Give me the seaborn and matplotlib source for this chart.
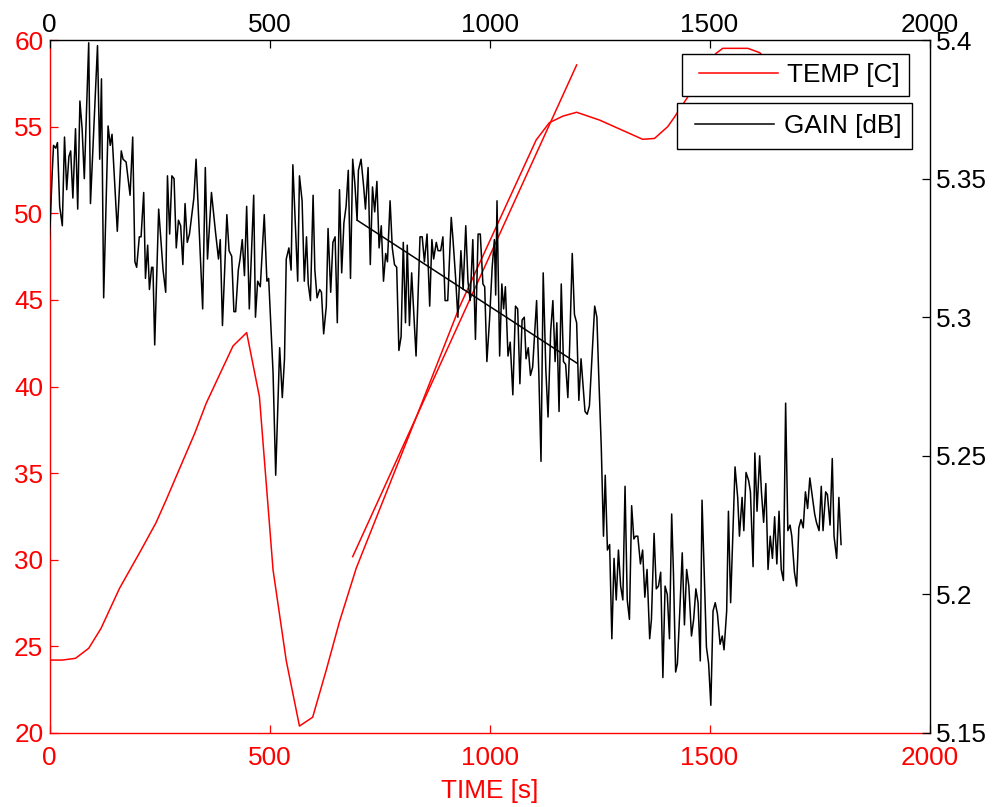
import matplotlib
matplotlib.use("Agg")
import matplotlib.pyplot as plt
import seaborn as sns
from matplotlib.ticker import FuncFormatter
from matplotlib.legend_handler import HandlerLine2D
from matplotlib.lines import Line2D

plt.rcParams['font.family'] = ['Liberation Sans', 'DejaVu Sans']

# ---------------- data ----------------
temp_t = [0, 29, 59, 89, 117, 159, 208, 242, 265, 299, 330, 356, 386, 417, 448,
          477, 508, 538, 568, 598, 629, 659, 697, 837, 932, 1045, 1106, 1136,
          1167, 1198, 1250, 1348, 1375, 1405, 1420, 1451, 1515, 1530, 1587, 1614, 1640]
temp_c = [24.21, 24.21, 24.31, 24.89, 26.04, 28.35, 30.56, 32.14, 33.45, 35.47,
          37.30, 39.03, 40.66, 42.34, 43.11, 39.41, 29.41, 24.17, 20.40, 20.91,
          23.64, 26.43, 29.51, 38.45, 44.61, 50.86, 54.23, 55.23, 55.61, 55.83,
          55.38, 54.27, 54.32, 55.00, 55.54, 56.73, 59.23, 59.52, 59.52, 59.27, 58.6]

temp_fit_t = [689, 1198]
temp_fit_c = [30.18, 58.56]

gain_t = [0, 6, 9, 14, 18, 23, 29, 34, 39, 44, 48, 53, 59, 64, 69, 74, 79, 89, 93, 109,
          114, 118, 123, 133, 138, 142, 154, 163, 167, 174, 183, 189, 194, 198, 204, 208,
          214, 218, 223, 227, 232, 235, 239, 248, 258, 264, 268, 273, 278, 283, 288, 293,
          298, 303, 308, 313, 318, 328, 333, 348, 354, 359, 368, 377, 384, 388, 393, 403,
          408, 414, 419, 423, 429, 433, 438, 443, 448, 454, 464, 468, 473, 479, 488, 494,
          498,
          508, 514, 523, 529, 534, 538, 544, 549, 553, 564, 568, 574, 579, 584, 588, 593,
          599, 603, 608, 614, 618, 623, 629, 633, 639, 644, 649, 654, 659, 664, 669, 674,
          679, 684, 689, 694, 699, 702, 708, 714, 718, 724, 729, 734, 739, 744, 749, 754,
          759, 764, 768, 774, 779, 784, 789, 794, 799, 804, 809, 813, 818, 823, 833, 842,
          847, 852, 858, 864, 869, 873, 879, 883, 889, 894, 899, 905, 913, 917, 923, 928,
          935, 940, 946, 951, 956, 962, 968, 974, 979, 985, 989, 994, 1000,
          1006, 1011, 1014, 1017, 1023, 1028, 1032, 1036, 1042, 1047, 1053, 1059, 1064,
          1069, 1074, 1079, 1083, 1088, 1093, 1098, 1107, 1112, 1117, 1122, 1128, 1133,
          1139, 1144, 1149, 1153, 1158, 1163, 1168, 1173, 1178, 1182, 1188, 1193, 1198,
          1203, 1208, 1217, 1222, 1227, 1239, 1244,
          1248, 1254, 1259, 1263, 1268, 1273, 1278, 1283, 1288, 1293, 1298, 1303, 1308,
          1313, 1318, 1323, 1328, 1332, 1337, 1343, 1348, 1353, 1358, 1364, 1368, 1374,
          1379, 1384, 1389, 1394, 1399, 1404, 1409, 1414, 1418, 1423, 1427, 1433, 1438,
          1443, 1448, 1453, 1459, 1464, 1469, 1474, 1479, 1483, 1493, 1498, 1503, 1508,
          1513, 1518, 1524, 1529, 1533, 1539, 1543, 1548, 1553, 1558, 1564, 1568, 1574,
          1578, 1583, 1589, 1593, 1599, 1603, 1608, 1614, 1618, 1623, 1628, 1633, 1638,
          1643, 1648, 1653, 1658, 1663, 1668, 1673, 1678, 1683, 1687, 1693, 1698, 1703,
          1708, 1713, 1718, 1723, 1728, 1733, 1739, 1743, 1749, 1754, 1758, 1764, 1768,
          1774, 1779, 1783, 1789, 1794, 1799]
gain_db = [5.328, 5.352, 5.362, 5.361, 5.363, 5.340, 5.333, 5.365, 5.346, 5.358, 5.360,
           5.343, 5.368, 5.339, 5.378, 5.368, 5.350, 5.399, 5.341, 5.398, 5.357, 5.386,
           5.307, 5.369, 5.362, 5.366, 5.331, 5.360, 5.357, 5.356, 5.344, 5.365, 5.320,
           5.318, 5.329, 5.329, 5.345, 5.314, 5.326, 5.310, 5.318, 5.318, 5.290, 5.339,
           5.317, 5.309, 5.351, 5.330, 5.351, 5.350, 5.325, 5.335, 5.333, 5.319, 5.341,
           5.327, 5.330, 5.343, 5.357, 5.303, 5.354, 5.321, 5.345, 5.331, 5.321, 5.328,
           5.297, 5.337, 5.324, 5.322, 5.302, 5.302, 5.317, 5.321, 5.328, 5.315, 5.340,
           5.303, 5.344, 5.300, 5.313, 5.311, 5.337, 5.313, 5.314,
           5.280, 5.243, 5.289, 5.271, 5.285, 5.321, 5.325, 5.317, 5.355, 5.313, 5.351,
           5.342, 5.313, 5.329, 5.312, 5.306, 5.344, 5.317, 5.307, 5.310, 5.309, 5.294,
           5.304, 5.332, 5.309, 5.327, 5.329, 5.298, 5.346, 5.316, 5.334, 5.340, 5.353,
           5.314, 5.357, 5.348, 5.335, 5.353, 5.357, 5.347, 5.339, 5.354, 5.319, 5.347,
           5.338, 5.349, 5.325, 5.333, 5.313, 5.323, 5.320, 5.342, 5.325, 5.319, 5.318,
           5.288, 5.293, 5.327, 5.298, 5.326, 5.297, 5.316, 5.286, 5.329, 5.329, 5.320,
           5.330, 5.304, 5.328, 5.321, 5.327, 5.324, 5.324, 5.329, 5.306, 5.306, 5.336,
           5.328, 5.314, 5.300, 5.324, 5.310, 5.333, 5.313, 5.306, 5.328, 5.292, 5.330,
           5.330, 5.312, 5.311, 5.284, 5.299,
           5.318, 5.328, 5.308, 5.342, 5.286, 5.312, 5.303, 5.311, 5.286, 5.291, 5.272,
           5.304, 5.303, 5.276, 5.299, 5.300, 5.285, 5.289, 5.279, 5.282, 5.306, 5.280,
           5.248, 5.316, 5.281, 5.264, 5.295, 5.306, 5.284, 5.298, 5.266, 5.312, 5.284,
           5.283, 5.271, 5.289, 5.323, 5.301, 5.298, 5.270, 5.285, 5.266, 5.265, 5.268,
           5.304, 5.300,
           5.280, 5.253, 5.221, 5.243, 5.216, 5.218, 5.184, 5.213, 5.198, 5.216, 5.203,
           5.198, 5.239, 5.198, 5.191, 5.232, 5.220, 5.221, 5.221, 5.211, 5.216, 5.199,
           5.209, 5.184, 5.191, 5.222, 5.202, 5.203, 5.208, 5.170, 5.203, 5.200, 5.184,
           5.229, 5.208, 5.172, 5.175, 5.196, 5.215, 5.189, 5.209, 5.203, 5.185, 5.191,
           5.202, 5.197, 5.176, 5.234, 5.181, 5.175, 5.160, 5.194, 5.197, 5.193, 5.182,
           5.185, 5.180, 5.194, 5.230, 5.197, 5.222, 5.246, 5.235, 5.221, 5.235, 5.223,
           5.244, 5.241, 5.237, 5.210, 5.251, 5.230, 5.250, 5.237, 5.226, 5.240, 5.209,
           5.221, 5.213, 5.228, 5.211, 5.230, 5.209, 5.205, 5.269, 5.223, 5.225, 5.221,
           5.208, 5.203, 5.224, 5.227, 5.224, 5.237, 5.231, 5.242, 5.236, 5.229, 5.226,
           5.223, 5.239, 5.223, 5.237, 5.236, 5.225, 5.249, 5.221, 5.213, 5.235, 5.218]

gain_fit_t = [699, 1199]
gain_fit_db = [5.335, 5.2834]

x_ticks = [0, 500, 1000, 1500, 2000]
temp_ticks = [20, 25, 30, 35, 40, 45, 50, 55, 60]
gain_ticks = [5.15, 5.2, 5.25, 5.3, 5.35, 5.4]

FS = 18.8

# ---------------- figure ----------------
fig = plt.figure(figsize=(9.97, 8.07), dpi=100)
fig.patch.set_facecolor('white')
ax1 = fig.add_axes([0.0497, 0.0917, 0.8826, 0.8587])
ax2 = ax1.twinx()

sns.lineplot(x=temp_t, y=temp_c, ax=ax1, color='red', lw=1.1,
             estimator=None, sort=False, label='TEMP [C]')
sns.lineplot(x=temp_fit_t, y=temp_fit_c, ax=ax1, color='red', lw=1.1,
             estimator=None, sort=False)
sns.lineplot(x=gain_t, y=gain_db, ax=ax2, color='black', lw=1.1,
             estimator=None, sort=False, label='GAIN [dB]')
sns.lineplot(x=gain_fit_t, y=gain_fit_db, ax=ax2, color='black', lw=1.1,
             estimator=None, sort=False)

ax1.set_xlim(0, 2000)
ax1.set_ylim(20, 60)
ax2.set_ylim(5.15, 5.4)
ax1.set_xticks(x_ticks)
ax1.set_yticks(temp_ticks)
ax2.set_yticks(gain_ticks)
ax2.yaxis.set_major_formatter(FuncFormatter(lambda v, p: f"{v:g}"))

ax1.set_facecolor('white')
ax2.patch.set_visible(False)

for s in ['top', 'right']:
    ax1.spines[s].set_visible(False)
for s in ['left', 'bottom']:
    ax1.spines[s].set_color('red')
    ax1.spines[s].set_linewidth(1.0)
for s in ['left', 'bottom']:
    ax2.spines[s].set_visible(False)
for s in ['top', 'right']:
    ax2.spines[s].set_visible(True)
    ax2.spines[s].set_color('black')
    ax2.spines[s].set_linewidth(1.0)

ax1.tick_params(axis='both', which='major', direction='in', length=6, width=0.9,
                colors='red', labelsize=FS, bottom=True, left=True, top=False, right=False)
ax1.tick_params(axis='x', pad=9.5)
ax1.tick_params(axis='y', pad=4.5)

ax2.xaxis.set_visible(True)
ax2.xaxis.tick_top()
ax2.tick_params(axis='both', which='major', direction='in', length=6, width=0.9,
                colors='black', labelsize=FS)
ax2.tick_params(axis='x', pad=2, top=True, bottom=False, labeltop=True, labelbottom=False)
ax2.tick_params(axis='y', pad=4.5, right=True, left=False)

ax1.set_xlabel('TIME [s]', color='red', fontsize=FS, labelpad=6)
ax1.set_ylabel('')
ax2.set_ylabel('')
ax2.set_xlabel('')

hmap = {Line2D: HandlerLine2D(xpad=0.3)}
leg_kw = dict(fontsize=FS, frameon=True, fancybox=False, framealpha=1,
              edgecolor='black', facecolor='white', handlelength=3.33,
              handletextpad=0.35, borderaxespad=0, loc='upper right',
              handler_map=hmap)
l1 = ax1.legend(bbox_to_anchor=(909 / 997, 1 - 54 / 807), bbox_transform=fig.transFigure,
                borderpad=0.345, **leg_kw)
l2 = ax2.legend(bbox_to_anchor=(912 / 997, 1 - 103 / 807), bbox_transform=fig.transFigure,
                borderpad=0.415, **leg_kw)
for lg in (l1, l2):
    lg.get_frame().set_linewidth(1.0)

fig.savefig('out.png', dpi=100, facecolor='white')
